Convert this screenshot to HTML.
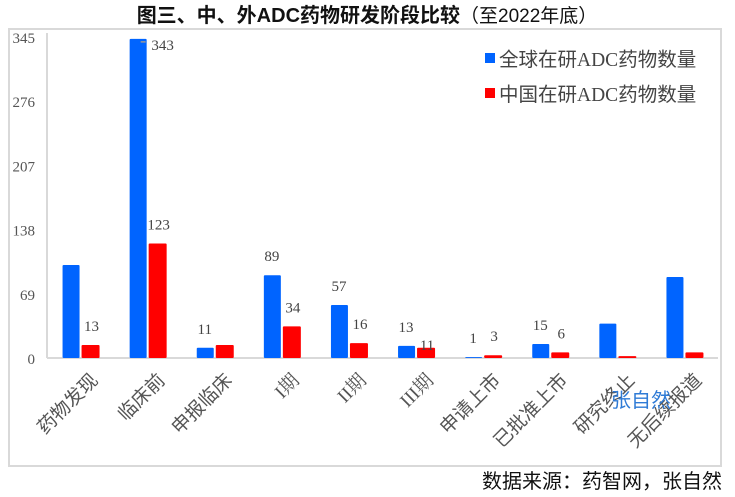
<!DOCTYPE html>
<html><head><meta charset="utf-8"><style>
body{margin:0;background:#fff;width:735px;height:497px;overflow:hidden}
svg{display:block;font-family:"Liberation Serif","Noto Serif CJK SC",serif}
.cj{font-family:"Liberation Sans","Noto Sans CJK SC",sans-serif}
</style></head><body>
<svg id="c" width="735" height="497">
<text x="367" y="22" text-anchor="middle" class="cj" font-size="20" font-weight="bold" fill="#111">图三、中、外ADC药物研发阶段比较<tspan font-weight="normal" font-size="19">（至2022年底）</tspan></text>
<rect x="9" y="29" width="712" height="437" fill="none" stroke="#d9d9d9" stroke-width="2"/>
<g id="plot"></g>
<g>
<rect x="485" y="53" width="10" height="10" fill="#0064ff"/>
<text x="499" y="66" class="cj" font-size="19.5" fill="#444">全球在研<tspan font-family="Liberation Serif">ADC</tspan>药物数量</text>
<rect x="485" y="88" width="10" height="10" fill="#ff0000"/>
<text x="499" y="101" class="cj" font-size="19.5" fill="#444">中国在研<tspan font-family="Liberation Serif">ADC</tspan>药物数量</text>
</g>
<text x="722" y="488" text-anchor="end" class="cj" font-size="20" fill="#111">数据来源：药智网，张自然</text>
</svg>
<script>
const categories=["药物发现","临床前","申报临床","I期","II期","III期","申请上市","已批准上市","研究终止","无后续报道"];
const globalVals=[100,343,11,89,57,13,1,15,37,87];
const chinaVals=[14,123,14,34,16,11,3,6,2,6];
const globalLabels=["","343","11","89","57","13","1","15","",""];
const chinaLabels=["13","123","","34","16","11","3","6","",""];
const yTicks=[0,69,138,207,276,345];
const NS="http://www.w3.org/2000/svg";
const g=document.getElementById('plot');
const y0=358,yTop=37,yMax=345,x0=47,x1=718;
const yS=v=>y0-(v/yMax)*(y0-yTop);
const step=(x1-x0)/categories.length;
const xC=i=>x0+step*(i+0.5)+1;
function mk(t,a){const e=document.createElementNS(NS,t);for(const k in a)e.setAttribute(k,a[k]);g.appendChild(e);return e;}
let ax=mk('line',{x1:x0,y1:yTop-4,x2:x0,y2:y0,stroke:'#d9d9d9','stroke-width':2});


let xa=mk('line',{x1:x0,y1:y0,x2:x1,y2:y0,stroke:'#d9d9d9','stroke-width':2});


yTicks.forEach(t=>{const e=mk('text',{x:35,y:yS(t)+6,'text-anchor':'end','font-size':15,fill:'#555'});e.textContent=t;

});
categories.forEach((c,i)=>{
 const cx=xC(i);
 const b=mk('rect',{x:cx-19,y:yS(globalVals[i]),width:17,height:y0-yS(globalVals[i]),fill:'#0064ff',rx:1});
 
 
 const r=mk('rect',{x:cx,y:yS(chinaVals[i]),width:18,height:y0-yS(chinaVals[i]),fill:'#ff0000',rx:1});
 
 
 if(globalLabels[i]){let lx=cx-11,ly=yS(globalVals[i])-14;if(i==1){lx=cx+14;ly=yS(globalVals[i])+11;
   const ld=mk('line',{x1:cx-8,y1:yS(globalVals[i])+3,x2:cx-3,y2:yS(globalVals[i])+3,stroke:'#999','stroke-width':1.5});
   
   }
  const t=mk('text',{x:lx,y:ly,'text-anchor':'middle','font-size':15,fill:'#444'});t.textContent=globalLabels[i];
  
  }
 if(chinaLabels[i]){const t=mk('text',{x:cx+10,y:yS(chinaVals[i])-(i==5?-2:14),'text-anchor':'middle','font-size':15,fill:'#444'});t.textContent=chinaLabels[i];
  
  }
 const lx=cx+8,ly=372;
 const t=mk('text',{x:lx,y:ly,'text-anchor':'end','font-size':19,fill:'#555',class:/I/.test(c)?'':'cj',transform:`rotate(-45 ${lx} ${ly})`,dy:'0.7em'});
 t.textContent=c;
 
 
});
const w=mk('text',{x:641,y:407,'text-anchor':'middle','font-size':20,fill:'#2f7bd6',class:'cj'});w.textContent='张自然';


</script>
</body></html>
